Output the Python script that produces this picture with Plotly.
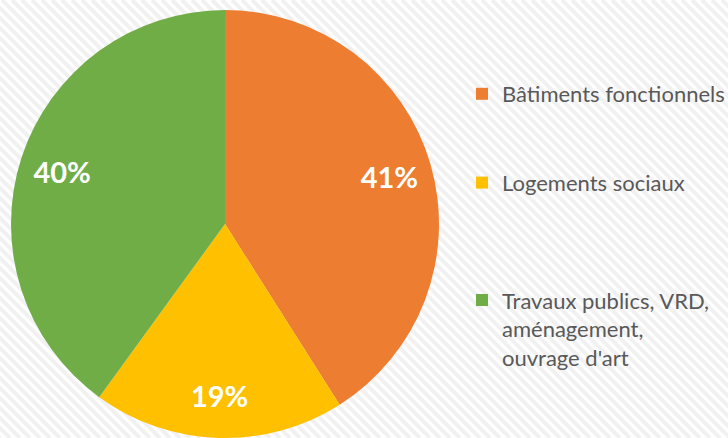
import plotly.graph_objects as go

categories = ["Bâtiments fonctionnels", "Logements sociaux", "Travaux publics, VRD, aménagement, ouvrage d'art"]
legend_labels = ["Bâtiments fonctionnels<br>&nbsp;<br>&nbsp;",
                 "Logements sociaux<br>&nbsp;<br>&nbsp;<br>&nbsp;",
                 "Travaux publics, VRD,<br>aménagement,<br>ouvrage d'art"]
values = [41, 19, 40]
colors = ["#ED7D31", "#FFC000", "#70AD47"]

W, H = 728, 438
domain = dict(x=[11 / W, 439 / W], y=[0, 428 / H])

fig = go.Figure()
# coloured slices + legend
fig.add_trace(go.Pie(
    labels=legend_labels,
    values=values,
    sort=False,
    direction="clockwise",
    rotation=0,
    marker=dict(colors=colors, line=dict(width=0)),
    textinfo="none",
    hoverinfo="skip",
    domain=domain,
))
# percentage labels, placed by plotly within an outer ring
fig.add_trace(go.Pie(
    labels=legend_labels,
    values=values,
    sort=False,
    direction="clockwise",
    rotation=0,
    hole=0.6,
    marker=dict(colors=["rgba(0,0,0,0)"] * 3, line=dict(width=0)),
    texttemplate="%{percent:.0%}",
    textposition="inside",
    insidetextorientation="horizontal",
    textfont=dict(family="Lato", size=29, color="white", weight="bold"),
    hoverinfo="skip",
    showlegend=False,
    domain=domain,
))

# diagonal stripe background
shapes = []
step = 10
c = -H
while c < W + step:
    shapes.append(dict(type="line", xref="paper", yref="paper",
                       x0=c / W, y0=1, x1=(c + H) / W, y1=0,
                       line=dict(color="#f1f1f1", width=4), layer="below"))
    c += step

fig.update_layout(
    width=W, height=H,
    margin=dict(l=0, r=0, t=0, b=0, autoexpand=False),
    paper_bgcolor="white",
    plot_bgcolor="white",
    shapes=shapes,
    showlegend=True,
    legend=dict(
        x=462 / W, xanchor="left",
        y=1 - 73 / H, yanchor="top",
        valign="top",
        font=dict(family="Lato", size=22, color="#595959"),
        bgcolor="rgba(0,0,0,0)",
        traceorder="normal",
    ),
)

fig.write_html("out.html", config={"displayModeBar": False},
               post_script="document.body.style.margin='0';")
